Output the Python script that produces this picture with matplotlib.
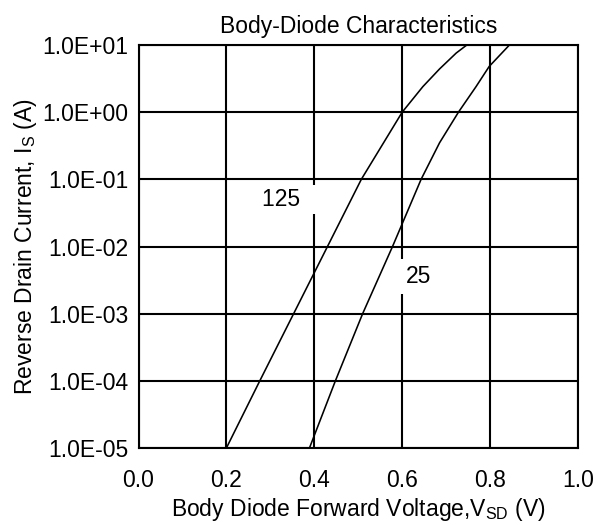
import matplotlib
matplotlib.use("Agg")
import matplotlib.pyplot as plt
from matplotlib.ticker import FixedLocator, FuncFormatter

plt.rcParams['font.family'] = ['Liberation Sans', 'DejaVu Sans']
plt.rcParams['mathtext.default'] = 'regular'

# Data
v_125 = [0.200, 0.276, 0.353, 0.430, 0.507, 0.600, 0.647, 0.685, 0.723, 0.747]
i_125 = [1e-5, 1e-4, 1e-3, 1e-2, 1e-1, 1.0, 2.4, 4.4, 7.6, 10.0]
v_25 = [0.389, 0.448, 0.510, 0.578, 0.643, 0.685, 0.728, 0.768, 0.798, 0.844]
i_25 = [1e-5, 1e-4, 1e-3, 1e-2, 0.1, 0.35, 1.0, 2.4, 4.8, 10.0]
x_ticks = [0.0, 0.2, 0.4, 0.6, 0.8, 1.0]
y_ticks = [1e-5, 1e-4, 1e-3, 1e-2, 1e-1, 1e0, 1e1]
y_tick_labels = ["1.0E-05", "1.0E-04", "1.0E-03", "1.0E-02", "1.0E-01", "1.0E+00", "1.0E+01"]

FS = 16.5
fig = plt.figure(figsize=(6.04, 5.25), dpi=100)
ax = fig.add_axes([138.5 / 604, 1 - 448 / 525, (578 - 138.5) / 604, (448 - 45) / 525])

ax.plot(v_125, i_125, color='black', lw=1.15, zorder=4)
ax.plot(v_25, i_25, color='black', lw=1.15, zorder=4)

ax.set_yscale('log')
ax.set_xlim(0, 1)
ax.set_ylim(1e-5, 1e1)
ax.xaxis.set_major_locator(FixedLocator(x_ticks))
ax.xaxis.set_major_formatter(FuncFormatter(lambda v, p: f"{v:.1f}"))
ax.yaxis.set_major_locator(FixedLocator(y_ticks))
ax.set_yticklabels(y_tick_labels)
ax.yaxis.set_minor_locator(FixedLocator([]))
ax.grid(True, color='black', lw=1.5, zorder=1)
ax.set_axisbelow(True)
ax.tick_params(axis='both', length=0, labelsize=FS)
ax.tick_params(axis='x', pad=15)
ax.tick_params(axis='y', pad=7.5)
for s in ax.spines.values():
    s.set_linewidth(1.5)

ax.text(0.281, 0.05, "125  ", ha='left', va='center', fontsize=FS,
        bbox=dict(boxstyle='square,pad=0.15', facecolor='white', edgecolor='none'), zorder=3)
ax.text(0.609, 3.6e-3, "25", ha='left', va='center', fontsize=FS,
        bbox=dict(boxstyle='square,pad=0.25', facecolor='white', edgecolor='none'), zorder=3)

ax.set_title("Body-Diode Characteristics", fontsize=FS, pad=9)
ax.set_xlabel("Body Diode Forward Voltage,V$_{SD}$ (V)", fontsize=FS, labelpad=3)
ax.set_ylabel("Reverse Drain Current, I$_{S}$ (A)", fontsize=FS, labelpad=2)

fig.savefig("out.png", dpi=100)
